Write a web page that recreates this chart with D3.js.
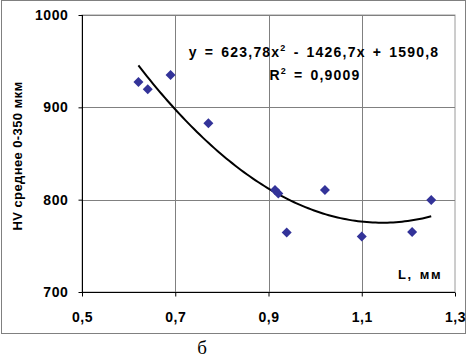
<!DOCTYPE html>
<html><head><meta charset="utf-8">
<script src="https://cdn.jsdelivr.net/npm/d3@7"></script>
<style>html,body{margin:0;padding:0;background:#fff;}svg{display:block;}</style>
</head><body>
<script>
const lengthMm = [0.621, 0.641, 0.690, 0.771, 0.914, 0.921, 0.939, 1.021, 1.100, 1.208, 1.249];
const hvMean   = [927.5, 919.5, 935.0, 882.7, 810.4, 806.8, 764.5, 810.4, 760.0, 765.0, 799.6];
const trendCoefficients = [623.78, -1426.7, 1590.8]; // a, b, c of quadratic trendline
const xTicks = [0.5, 0.7, 0.9, 1.1, 1.3];
const xTickLabels = ["0,5", "0,7", "0,9", "1,1", "1,3"];
const yTicks = [700, 800, 900, 1000];
const yTickLabels = ["700", "800", "900", "1000"];
const equationText = "y = 623,78x² - 1426,7x + 1590,8";
const r2Text = "R² = 0,9009";

const W = 470, H = 359;
const svg = d3.select("body").append("svg").attr("width", W).attr("height", H);
const font = "Arial, 'Liberation Sans', sans-serif";

svg.append("rect").attr("x", 1.5).attr("y", 0.5).attr("width", 464).attr("height", 333)
  .attr("fill", "#fff").attr("stroke", "#808080").attr("stroke-width", 1);

const x = d3.scaleLinear().domain([0.5, 1.3]).range([82, 455]);
const y = d3.scaleLinear().domain([700, 1000]).range([292, 15]);

svg.append("rect").attr("x", 82).attr("y", 15).attr("width", 373).attr("height", 277)
  .attr("fill", "none").attr("stroke", "#9a9a9a");

const g = svg.append("g");
g.selectAll("line.h").data(yTicks.slice(1)).join("line")
  .attr("x1", 82).attr("x2", 455).attr("y1", d => Math.round(y(d)) + 0.5).attr("y2", d => Math.round(y(d)) + 0.5)
  .attr("stroke", "#808080");
g.selectAll("line.v").data(xTicks.slice(1, -1)).join("line")
  .attr("y1", 15).attr("y2", 292).attr("x1", d => Math.round(x(d)) + 0.5).attr("x2", d => Math.round(x(d)) + 0.5)
  .attr("stroke", "#808080");

const xAxis = d3.axisBottom(x).tickValues(xTicks).tickFormat((d, i) => xTickLabels[i]).tickSize(4).tickPadding(16);
const yAxis = d3.axisLeft(y).tickValues(yTicks).tickFormat((d, i) => yTickLabels[i]).tickSize(4).tickPadding(10);
const gx = svg.append("g").attr("transform", "translate(0,292.5)").call(xAxis);
const gy = svg.append("g").attr("transform", "translate(82.5,0)").call(yAxis);
[gx, gy].forEach(a => {
  a.select(".domain").attr("stroke", "#000");
  a.selectAll(".tick line").attr("stroke", "#000");
  a.selectAll("text").attr("font-family", font).attr("font-size", 14).attr("font-weight", "bold")
    .attr("letter-spacing", 0.6).attr("fill", "#000");
});
gx.select(".domain").attr("d", "M82,0H455");
gy.select(".domain").attr("d", "M0,15V292");

const tl = d3.range(0, 101).map(i => {
  const xv = d3.min(lengthMm) + (d3.max(lengthMm) - d3.min(lengthMm)) * i / 100;
  return [xv, trendCoefficients[0] * xv * xv + trendCoefficients[1] * xv + trendCoefficients[2]];
});
svg.append("path").datum(tl)
  .attr("d", d3.line().x(d => x(d[0])).y(d => y(d[1])))
  .attr("fill", "none").attr("stroke", "#000").attr("stroke-width", 2);

svg.selectAll("path.pt").data(lengthMm).join("path")
  .attr("transform", (d, i) => `translate(${x(d)},${y(hvMean[i])}) rotate(45)`)
  .attr("d", d3.symbol().type(d3.symbolSquare).size(50))
  .attr("fill", "#333399");

function supText(sel, str) {
  const parts = str.split("²");
  parts.forEach((p, i) => {
    sel.append("tspan").text(p).attr("dy", i === 0 ? 0 : 6).attr("font-size", 14);
    if (i < parts.length - 1) sel.append("tspan").text("2").attr("dy", -6).attr("font-size", 9);
  });
}
const eq = svg.append("text").attr("x", 314).attr("y", 57).attr("text-anchor", "middle")
  .attr("font-family", font).attr("font-weight", "bold").attr("letter-spacing", 1.2).attr("word-spacing", 2);
supText(eq, equationText);
const r2 = svg.append("text").attr("x", 315).attr("y", 80).attr("text-anchor", "middle")
  .attr("font-family", font).attr("font-weight", "bold").attr("letter-spacing", 1.2).attr("word-spacing", 2);
supText(r2, r2Text);

svg.append("text").attr("transform", "translate(22,156) rotate(-90)").attr("text-anchor", "middle")
  .attr("font-family", font).attr("font-weight", "bold").attr("font-size", 13).attr("letter-spacing", 0.4)
  .text("HV среднее 0-350 мкм");
svg.append("text").attr("x", 442).attr("y", 279).attr("text-anchor", "end")
  .attr("font-family", font).attr("font-weight", "bold").attr("font-size", 13).attr("letter-spacing", 1.5)
  .attr("word-spacing", 2).text("L, мм");

svg.append("text").attr("x", 202).attr("y", 354).attr("text-anchor", "middle")
  .attr("font-family", "'Liberation Serif', 'Times New Roman', serif").attr("font-size", 19).text("б");
</script>
</body></html>
